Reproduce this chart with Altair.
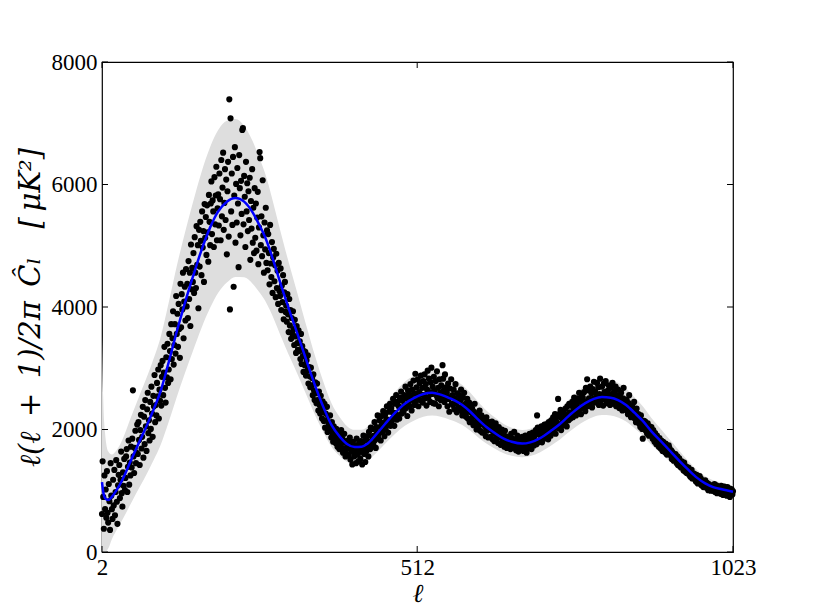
import altair as alt
import pandas as pd

# ---- smooth model curve (ell, D_ell) ----
curve_l = [2, 4, 7, 12, 18, 25, 35, 49, 62, 76, 86, 96, 110, 123, 136, 149, 163, 177, 190, 204,
           218, 232, 246, 256, 266, 274, 282, 290, 298, 308, 318, 334, 347, 360, 373, 387, 399, 411,
           422, 432, 444, 460, 476, 492, 508, 522, 536, 550, 565, 585, 598, 610, 624, 638, 652, 665,
           682, 695, 711, 730, 743, 756, 770, 784, 798, 811, 825, 837, 850, 864, 877, 891, 910, 924,
           937, 951, 965, 978, 991, 1005, 1023]
curve_v = [1140, 980, 880, 850, 900, 1000, 1180, 1500, 1790, 2100, 2340, 2600, 3100, 3600, 4060,
           4490, 4930, 5300, 5560, 5720, 5780, 5720, 5540, 5350, 5140, 4920, 4670, 4410, 4160, 3860,
           3570, 3090, 2710, 2370, 2080, 1880, 1760, 1715, 1720, 1770, 1900, 2090, 2270, 2420, 2520,
           2580, 2600, 2570, 2510, 2400, 2290, 2170, 2040, 1940, 1850, 1800, 1770, 1790, 1860, 1990,
           2090, 2210, 2330, 2430, 2500, 2530, 2520, 2480, 2400, 2270, 2140, 1970, 1770, 1620, 1480,
           1340, 1210, 1120, 1060, 1025, 985]
# ---- grey band, lower / upper edge at the same ell ----
band_lo = [0, 0, 0, 57, 210, 347, 526, 796, 1043, 1308, 1509, 1726, 2127, 2531, 2915, 3278, 3658,
           3986, 4231, 4399, 4491, 4484, 4377, 4248, 4102, 3941, 3755, 3555, 3365, 3134, 2910, 2534,
           2230, 1958, 1724, 1564, 1470, 1435, 1443, 1489, 1602, 1768, 1927, 2060, 2152, 2208, 2228,
           2208, 2161, 2074, 1981, 1879, 1771, 1686, 1611, 1570, 1547, 1566, 1630, 1747, 1837, 1945,
           2053, 2143, 2208, 2237, 2230, 2197, 2129, 2016, 1902, 1753, 1577, 1445, 1320, 1197, 1082,
           1002, 949, 918, 884]
band_hi = [3519, 2505, 1940, 1643, 1590, 1653, 1834, 2204, 2537, 2892, 3171, 3474, 4073, 4669,
           5205, 5702, 6202, 6614, 6889, 7041, 7069, 6956, 6703, 6452, 6178, 5899, 5585, 5265, 4955,
           4586, 4230, 3646, 3190, 2782, 2436, 2196, 2050, 1995, 1997, 2051, 2198, 2412, 2613, 2780,
           2888, 2952, 2972, 2932, 2859, 2726, 2599, 2461, 2309, 2194, 2089, 2030, 1993, 2014, 2090,
           2233, 2343, 2475, 2607, 2717, 2792, 2823, 2810, 2763, 2671, 2524, 2378, 2187, 1963, 1795,
           1640, 1483, 1338, 1238, 1171, 1132, 1086]

# ---- measured points, one per ell starting at ell = 2 ----
ell_first = 2
points_v = [
    620, 1480, 900, 380, 1250, 700, 1020, 560,                      # 2-9
    1320, 640, 480, 1110, 830, 360, 1450, 920, 700, 540,            # 10
    1180, 760, 1340, 600, 980, 1500, 820, 460, 1090, 1260,          # 20
    1420, 880, 1180, 1640, 960, 740, 1300, 1080, 1520, 1010,        # 30
    1210, 1560, 1680, 980, 1390, 1820, 1100, 1460, 1250, 1720,      # 40
    1380, 1850, 2640, 1560, 1290, 1700, 1980, 1450, 1620, 2080,     # 50
    1600, 2120, 1830, 1420, 1990, 2240, 1690, 1880, 2370, 1540,     # 60
    2210, 1760, 2480, 2050, 1650, 2330, 2600, 1940, 2150, 1820,     # 70
    2450, 2010, 2700, 2260, 1880, 2550, 2380, 2890, 2120, 2400,     # 80
    2230, 2760, 2540, 2980, 2180, 2650, 2470, 3050, 2390, 2860,     # 90
    3120, 2560, 2930, 3350, 2680, 2440, 3180, 2850, 3400, 2760,     # 100
    2980, 3560, 3280, 2820, 3720, 3150, 3490, 3930, 3060, 3380,     # 110
    3720, 3240, 4180, 3560, 3890, 3350, 4050, 3640, 3170, 4380,     # 120
    3670, 4210, 3960, 4560, 3490, 4090, 4330, 3780, 4620, 4010,     # 130
    4380, 3820, 4750, 4130, 4560, 3690, 5020, 4290, 4640, 4410,     # 140
    4880, 4230, 5140, 4560, 4310, 5320, 4690, 5010, 3980, 5260,     # 150
    4660, 5390, 5080, 4520, 5560, 4970, 5240, 4410, 5680, 5130,     # 160
    5470, 4850, 5660, 5220, 4740, 5830, 5390, 5010, 5690, 6050,     # 170
    5190, 5740, 5560, 4980, 6120, 5350, 5820, 6290, 5090, 5610,     # 180
    5840, 5330, 6180, 5760, 5090, 6400, 5480, 5950, 6520, 5260,     # 190
    5700, 6250, 5420, 6080, 4860, 5890, 6370, 5150, 7390, 3960,     # 200
    7080, 5560, 6180, 5340, 6450, 4330, 5820, 6610, 5050, 6010,     # 210
    5380, 6270, 5690, 4650, 6480, 5940, 5170, 6060, 5520, 6890,     # 220
    6920, 5350, 6140, 5800, 4980, 6370, 5560, 6020, 5240, 5890,     # 230
    5420, 6110, 4770, 5730, 5280, 6250, 5050, 5620, 4880, 5940,     # 240
    5130, 5690, 4920, 5460, 5880, 4700, 5300, 6530, 6430, 5010,     # 250
    5480, 4830, 6070, 5170, 4560, 5380, 4940, 5620, 4720, 5250,     # 260
    4600, 5190, 4880, 4370, 5340, 4710, 4490, 5060, 4230, 4810,     # 270
    4950, 4420, 4680, 4160, 4870, 4310, 4590, 4050, 4720, 4260,     # 280
    4180, 4630, 3950, 4350, 4080, 4520, 3800, 4240, 4410, 3920,     # 290
    4020, 3760, 4210, 3880, 3590, 4130, 3700, 3950, 3480, 3820,     # 300
    3560, 3930, 3640, 3380, 3790, 3520, 3250, 3690, 3410, 3300,     # 310
    3620, 3280, 3440, 3150, 3560, 3070, 3360, 3200, 2940, 3280,     # 320
    3050, 3270, 2880, 3130, 2960, 3210, 2750, 3020, 2870, 2690,     # 330
    3010, 2720, 2840, 2560, 2900, 2640, 2480, 2770, 2590, 2430,     # 340
    2750, 2480, 2310, 2620, 2400, 2260, 2550, 2330, 2180, 2460,     # 350
    2290, 2140, 2420, 2030, 2260, 2150, 2370, 1960, 2220, 2080,     # 360
    1990, 2230, 2010, 1870, 2120, 1930, 1800, 2050, 1880, 1960,     # 370
    1780, 2010, 1870, 1720, 1950, 1820, 1680, 1900, 1760, 1990,     # 380
    1700, 1850, 1620, 1790, 1930, 1660, 1560, 1810, 1710, 1600,     # 390
    1820, 1580, 1690, 1870, 1510, 1760, 1640, 1430, 1800, 1680,     # 400
    1560, 1740, 1620, 1450, 1850, 1700, 1590, 1480, 1780, 1640,     # 410
    1520, 1810, 1670, 1430, 1760, 1900, 1600, 1700, 1470, 1830,     # 420
    1650, 1890, 1720, 1560, 1960, 1800, 1680, 2030, 1740, 1880,     # 430
    2010, 1760, 1900, 2120, 1830, 1700, 2040, 1950, 2230, 1860,     # 440
    1930, 2150, 2040, 1820, 2220, 2080, 1960, 2300, 2110, 1890,     # 450
    2240, 2010, 2170, 2380, 2080, 1950, 2290, 2150, 2420, 2060,     # 460
    2350, 2140, 2280, 2500, 2190, 2060, 2420, 2270, 2560, 2160,     # 470
    2450, 2230, 2380, 2180, 2520, 2360, 2620, 2260, 2470, 2310,     # 480
    2290, 2560, 2400, 2700, 2350, 2510, 2220, 2640, 2450, 2580,     # 490
    2380, 2740, 2520, 2310, 2650, 2480, 2800, 2400, 2590, 2910,     # 500
    2460, 2690, 2550, 2820, 2380, 2610, 2760, 2480, 2880, 2570,     # 510
    2680, 2440, 2790, 2560, 2900, 2510, 2740, 2390, 2650, 2960,     # 520
    2520, 2830, 2610, 2450, 2770, 3010, 2580, 2700, 2430, 2860,     # 530
    2640, 2420, 2790, 2560, 2950, 2510, 2680, 2380, 2820, 2600,     # 540
    2480, 2720, 2560, 3050, 2830, 2640, 2450, 2900, 2520, 2690,     # 550
    2600, 2380, 2750, 2500, 2290, 2670, 2530, 2820, 2420, 2560,     # 560
    2400, 2650, 2330, 2510, 2740, 2430, 2280, 2590, 2470, 2360,     # 570
    2560, 2310, 2480, 2650, 2350, 2230, 2520, 2400, 2600, 2290,     # 580
    2420, 2210, 2350, 2500, 2180, 2300, 2440, 2120, 2280, 2380,     # 590
    2150, 2340, 2210, 2070, 2290, 2420, 2110, 2230, 2000, 2180,     # 600
    2260, 2050, 2150, 2310, 1980, 2120, 2230, 1950, 2080, 2190,     # 610
    1950, 2140, 2040, 1890, 2200, 1980, 2080, 1870, 2120, 2010,     # 620
    2070, 1880, 1990, 2130, 1840, 1960, 2060, 1810, 1930, 2100,     # 630
    1850, 2010, 1900, 1780, 2040, 1870, 1960, 1750, 1880, 2000,     # 640
    1790, 1930, 1840, 1720, 1980, 1810, 1890, 1700, 1850, 1760,     # 650
    1870, 1740, 1820, 1680, 1930, 1780, 1850, 1710, 1800, 1960,     # 660
    1720, 1830, 1660, 1790, 1900, 1740, 1640, 1850, 1770, 1690,     # 670
    1810, 1700, 1880, 1750, 1650, 1830, 1720, 1900, 1780, 1620,     # 680
    1760, 1870, 1690, 1820, 1930, 1730, 1850, 1680, 1790, 1950,     # 690
    1850, 1740, 1900, 1810, 1990, 1760, 2230, 2030, 1790, 1920,     # 700
    1960, 1820, 1900, 2050, 1790, 1930, 2000, 1850, 2080, 1880,     # 710
    2010, 1870, 2090, 1950, 1840, 2120, 1990, 2060, 1900, 2150,     # 720
    1950, 2100, 2200, 1980, 2060, 2250, 1930, 2130, 2040, 2210,     # 730
    2500, 2020, 2250, 2090, 2320, 1990, 2180, 2070, 2300, 2150,     # 740
    2260, 2100, 2340, 2190, 2050, 2380, 2230, 2150, 2420, 2280,     # 750
    2180, 2390, 2260, 2450, 2200, 2350, 2520, 2290, 2410, 2230,     # 760
    2440, 2280, 2510, 2360, 2600, 2330, 2460, 2250, 2580, 2400,     # 770
    2520, 2350, 2610, 2460, 2300, 2680, 2430, 2820, 2380, 2640,     # 780
    2510, 2400, 2700, 2470, 2590, 2360, 2660, 2500, 2780, 2440,     # 790
    2620, 2450, 2560, 2760, 2480, 2690, 2400, 2580, 2830, 2520,     # 800
    2480, 2700, 2560, 2390, 2750, 2610, 2490, 2790, 2540, 2430,     # 810
    2630, 2460, 2720, 2540, 2400, 2680, 2580, 2470, 2760, 2520,     # 820
    2420, 2620, 2510, 2700, 2380, 2560, 2450, 2650, 2480, 2350,     # 830
    2540, 2390, 2600, 2460, 2310, 2510, 2680, 2420, 2350, 2490,     # 840
    2320, 2480, 2370, 2250, 2430, 2560, 2280, 2390, 2200, 2340,     # 850
    2380, 2210, 2300, 2450, 2180, 2260, 2120, 2340, 2230, 2150,     # 860
    2250, 2100, 2180, 2040, 2230, 2120, 2010, 1850, 2070, 2140,     # 870
    2030, 2130, 1980, 2070, 1930, 2100, 2000, 1900, 2050, 1940,     # 880
    1910, 2040, 1960, 1850, 1990, 1880, 1800, 1940, 1830, 1760,     # 890
    1900, 1780, 1840, 1720, 1860, 1760, 1690, 1820, 1740, 1650,     # 900
    1800, 1690, 1740, 1630, 1770, 1660, 1590, 1700, 1620, 1740,     # 910
    1700, 1600, 1580, 1660, 1520, 1630, 1560, 1490, 1600, 1540,     # 920
    1600, 1510, 1450, 1560, 1420, 1490, 1530, 1400, 1450, 1380,     # 930
    1480, 1390, 1420, 1330, 1460, 1370, 1310, 1400, 1290, 1360,     # 940
    1300, 1380, 1260, 1320, 1230, 1290, 1340, 1200, 1270, 1230,     # 950
    1280, 1190, 1230, 1150, 1260, 1180, 1120, 1210, 1160, 1240,     # 960
    1130, 1200, 1090, 1160, 1110, 1060, 1140, 1080, 1170, 1100,     # 970
    1050, 1130, 1080, 1010, 1110, 1040, 1090, 1000, 1070, 1030,     # 980
    1080, 1000, 1050, 1110, 980, 1040, 1090, 960, 1030, 1070,       # 990
    990, 1060, 1010, 950, 1080, 1000, 1040, 930, 1020, 1070,        # 1000
    970, 1040, 990, 920, 1060, 980, 940, 1010, 900, 1030,           # 1010
    960, 1020, 940, 990,                                            # 1020-1023
]

x_ticks = [2, 512, 1023]
y_ticks = [0, 2000, 4000, 6000, 8000]
x_title = "ℓ"
y_title = "ℓ(ℓ\u2002+\u20021)/2π\u2002Ĉₗ\u2003[\u2009μK²]"

W, H = 631, 490
FONT = "Liberation Serif"
TFONT = "DejaVu Serif"
TICK = 6

curve_df = pd.DataFrame({"ell": curve_l, "D": curve_v, "lo": band_lo, "hi": band_hi})
pts_df = pd.DataFrame({"ell": list(range(ell_first, ell_first + len(points_v))), "D": points_v})
xt_df = pd.DataFrame({"t": x_ticks})
yt_df = pd.DataFrame({"t": y_ticks})

xscale = alt.Scale(domain=[2, 1023], nice=False, zero=False)
yscale = alt.Scale(domain=[0, 8000], nice=False, zero=False)

x_axis = alt.Axis(values=x_ticks, format="d", ticks=False, domain=False, grid=False,
                  labelFlush=False, labelOverlap=False, labelPadding=4, labelFont=FONT,
                  labelFontSize=23, labelColor="black", title=x_title, titleFont=TFONT,
                  titleFontSize=26, titleFontStyle="italic", titleFontWeight="normal",
                  titleColor="black", titleBaseline="alphabetic", titleY=49)
y_axis = alt.Axis(values=y_ticks, format="d", ticks=False, domain=False, grid=False,
                  labelFlush=False, labelOverlap=False, labelPadding=5, labelFont=FONT,
                  labelFontSize=23, labelColor="black", title=y_title,
                  titleFont=TFONT, titleFontSize=29, titleFontStyle="italic",
                  titleFontWeight="normal", titleColor="black", titleAngle=270,
                  titleAlign="center", titleBaseline="alphabetic", titleX=-63, titleY=H / 2)

band = alt.Chart(curve_df).mark_area(color="#dedede", interpolate="monotone").encode(
    x=alt.X("ell:Q", scale=xscale, axis=x_axis),
    y=alt.Y("lo:Q", scale=yscale, axis=y_axis),
    y2="hi:Q",
)
dots = alt.Chart(pts_df).mark_circle(color="black", opacity=1, size=38).encode(
    x=alt.X("ell:Q", scale=xscale),
    y=alt.Y("D:Q", scale=yscale),
)
line = alt.Chart(curve_df).mark_line(color="#0000ff", strokeWidth=2.5, interpolate="monotone").encode(
    x=alt.X("ell:Q", scale=xscale),
    y=alt.Y("D:Q", scale=yscale),
)
yt_left = alt.Chart(yt_df).mark_rule(color="black", strokeWidth=1).encode(
    y=alt.Y("t:Q", scale=yscale), x=alt.value(0), x2=alt.value(TICK))
yt_right = alt.Chart(yt_df).mark_rule(color="black", strokeWidth=1).encode(
    y=alt.Y("t:Q", scale=yscale), x=alt.value(W - TICK), x2=alt.value(W))
xt_bot = alt.Chart(xt_df).mark_rule(color="black", strokeWidth=1).encode(
    x=alt.X("t:Q", scale=xscale), y=alt.value(H - TICK), y2=alt.value(H))
xt_top = alt.Chart(xt_df).mark_rule(color="black", strokeWidth=1).encode(
    x=alt.X("t:Q", scale=xscale), y=alt.value(0), y2=alt.value(TICK))

chart = alt.layer(band, dots, line, yt_left, yt_right, xt_bot, xt_top).properties(
    width=W, height=H,
    autosize=alt.AutoSizeParams(type="none"),
    padding={"left": 94, "top": 54, "right": 60, "bottom": 58},
    background="white",
).configure_view(stroke="black", strokeWidth=1.2, fill="white")

chart.save("out.html", embed_options={"renderer": "svg", "actions": False})
